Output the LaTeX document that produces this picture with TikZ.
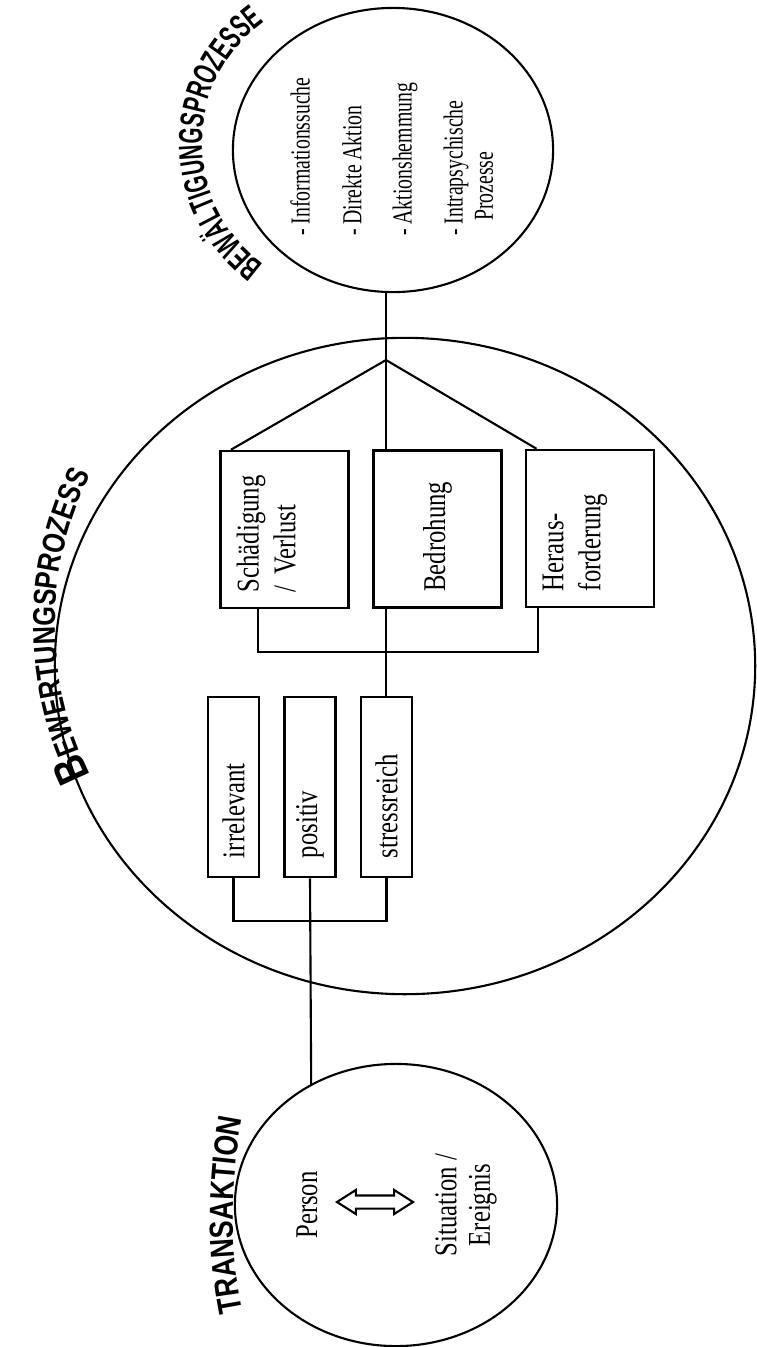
\documentclass[tikz,border=0pt]{standalone}
\usepackage{fontspec}
\setmainfont{Liberation Serif}[FakeStretch=0.78]
\newfontfamily\itemfont{Liberation Serif}[FakeStretch=0.72]
\newfontfamily\transfont{Liberation Sans}[FakeStretch=0.8]
\newfontfamily\copefont{Liberation Sans}[FakeStretch=0.62]
\usetikzlibrary{shapes.geometric,shapes.arrows,decorations.text,calc}

\begin{document}
\begin{tikzpicture}[x=0.01cm,y=0.01cm,line width=0.6pt,
  ring node/.style={ellipse,draw,inner sep=0},
  box node/.style={rectangle,draw,line width=0.7pt,rotate=90,align=left,inner ysep=0,
    font=\fontsize{9}{10.5}\selectfont},
  upper box/.style={box node,text width=1.25cm,inner xsep=0.16cm,minimum height=1.28cm},
  lower box/.style={box node,text width=1.42cm,inner xsep=0.19cm,minimum height=0.51cm},
  item node/.style={rotate=90,anchor=west,inner sep=0,font=\itemfont\fontsize{7.8}{8}\selectfont},
  word node/.style={rotate=90,align=center,inner sep=0,font=\fontsize{9}{9.5}\selectfont}]
    \useasboundingbox (0,0) rectangle (757,-1347);

    \node[ring node,minimum width=3.2cm,minimum height=2.84cm](cope) at (393,-150){};
    \node[ring node,minimum width=7cm,minimum height=6.56cm](rate) at (405,-666){};
    \node[ring node,minimum width=3.22cm,minimum height=2.82cm](trans) at (396,-1205){};

    \node[item node](info) at (300,-237){- Informationssuche};
    \node[item node](act) at (352,-237){- Direkte Aktion};
    \node[item node](inhib) at (405,-237){- Aktionshemmung};
    \node[item node](intra) at (456,-237){- Intrapsychische};
    \node[item node](proc) at (484,-222){Prozesse};

    \node[upper box](sv) at (284.5,-529.5){Schädigung\\/ Verlust\\\mbox{}};
    \node[upper box](bd) at (437.5,-529){Bedrohung};
    \node[upper box](hf) at (590,-528.5){Heraus-\\forderung\\\mbox{}};

    \node[lower box](ir) at (233.5,-787){irrelevant};
    \node[lower box](po) at (310,-787){positiv};
    \node[lower box](sr) at (386.5,-787){stressreich};

    \node[word node](person) at (307,-1205){Person};
    \node[word node](situation) at (466,-1205){Situation /\\Ereignis};
    \node[draw,double arrow,inner xsep=0,inner ysep=0.055cm,minimum height=0.76cm,
      double arrow head extend=0.055cm,double arrow tip angle=65](swap) at (375,-1202){};

    \coordinate (fan) at (386,-360);
    \coordinate (upper join) at (386,-652);
    \coordinate (lower join) at (311,-921);

    \draw (fan |- cope.south) -- (fan);
    \draw (fan) -- (fan |- bd.east);
    \draw (fan) -- ($(sv.north east)!.09!(sv.south east)$);
    \draw (fan) -- ($(hf.north east)!.09!(hf.south east)$);
    \draw ($(sv.north west)!.3!(sv.south west)$) |- (upper join)
      -| ($(hf.north west)!.1!(hf.south west)$);
    \draw (fan |- bd.west) -- (fan |- sr.east);
    \draw (ir.west) |- (lower join) -| (sr.west);
    \draw (po.west) -- (trans.125);

    \path[decorate,decoration={text along path,text align=center,
      text={|\transfont\bfseries\fontsize{9.5}{9.5}\selectfont|TRANSAKTION}}]
      (733,-1215) ++(192:500) arc[start angle=192,end angle=168,radius=500];
    \path[decorate,decoration={text along path,text align=center,
      text={|\copefont\bfseries\fontsize{9.5}{9.5}\selectfont|BEWÄLTIGUNGSPROZESSE}}]
      (352,-143) ++(240:150) arc[start angle=240,end angle=120,radius=150];
    \path[decorate,decoration={text along path,text align=center,
      text={|\transfont\bfseries\fontsize{13}{13}\selectfont|B|\transfont\bfseries\fontsize{9}{9}\selectfont|EWERTUNGSPROZESS}}]
      (390,-625) ++(216:335) arc[start angle=216,end angle=144,radius=335];
\end{tikzpicture}
\end{document}
